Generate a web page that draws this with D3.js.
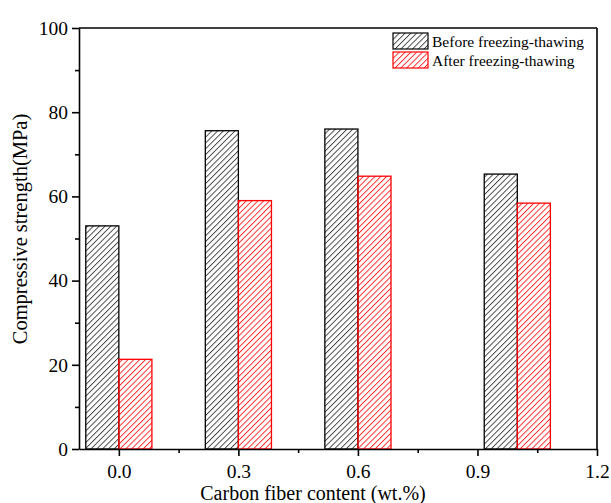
<!doctype html>
<html lang="en">
<head>
<meta charset="utf-8">
<style>
	body{margin:0;background:#fff;}
	text{font-family:"Liberation Serif","Times New Roman",serif;fill:#000;}
</style>
</head>
<body>
<div id="grafico"></div>

<script src="https://d3js.org/d3.v7.min.js"></script>
<script>

// datos
var contenido = [0.0, 0.3, 0.6, 1.0];          // posición de cada grupo (wt.%)
var antes = [53.0, 75.6, 76.0, 65.3];          // Before freezing-thawing
var despues = [21.3, 59.0, 64.8, 58.4];        // After freezing-thawing
var ticksX = [0.0, 0.3, 0.6, 0.9, 1.2];
var menoresX = [0.15, 0.45, 0.75, 1.05];
var ticksY = [0, 20, 40, 60, 80, 100];
var menoresY = [10, 30, 50, 70, 90];
var series = ["Before freezing-thawing", "After freezing-thawing"];

var w = 611, h = 503;
var izq = 79, der = 597, arriba = 28, abajo = 449;
var ancho = 0.083;

var x = d3.scaleLinear().domain([-0.1, 1.2]).range([izq, der]);
var y = d3.scaleLinear().domain([0, 100]).range([abajo, arriba]);

var svg = d3.select("#grafico").append("svg").attr("width", w).attr("height", h);

// tramas diagonales
var defs = svg.append("defs");
function trama(id, color){
	var p = defs.append("pattern").attr("id", id).attr("patternUnits", "userSpaceOnUse")
		.attr("width", 4.1).attr("height", 4.1).attr("patternTransform", "rotate(45)");
	p.append("line").attr("x1", 0.5).attr("y1", 0).attr("x2", 0.5).attr("y2", 4.1)
		.attr("stroke", color).attr("stroke-width", 0.8);
}
trama("negro", "#222");
trama("rojo", "#ff0000");

// barras
svg.selectAll("rect.antes").data(antes).enter().append("rect").attr("class", "antes")
	.attr("x", function(d,i){ return x(contenido[i] - ancho) })
	.attr("width", function(d,i){ return x(contenido[i]) - x(contenido[i] - ancho) })
	.attr("y", function(d){ return y(d) })
	.attr("height", function(d){ return y(0) - y(d) })
	.attr("fill", "url(#negro)").attr("stroke", "#000").attr("stroke-width", 1.3);

svg.selectAll("rect.despues").data(despues).enter().append("rect").attr("class", "despues")
	.attr("x", function(d,i){ return x(contenido[i]) })
	.attr("width", function(d,i){ return x(contenido[i] + ancho) - x(contenido[i]) })
	.attr("y", function(d){ return y(d) })
	.attr("height", function(d){ return y(0) - y(d) })
	.attr("fill", "url(#rojo)").attr("stroke", "#ff0000").attr("stroke-width", 1.3);

// ejes
svg.append("g").attr("transform", "translate(0," + abajo + ")")
	.call(d3.axisBottom(x).tickValues(ticksX).tickFormat(d3.format(".1f")).tickSizeInner(7).tickSizeOuter(0).tickPadding(8));
svg.append("g").attr("transform", "translate(0," + abajo + ")")
	.call(d3.axisBottom(x).tickValues(menoresX).tickFormat("").tickSizeInner(4).tickSizeOuter(0))
	.select(".domain").remove();

svg.append("g").attr("transform", "translate(" + izq + ",0)")
	.call(d3.axisLeft(y).tickValues(ticksY).tickSizeInner(7).tickSizeOuter(0).tickPadding(4));
svg.append("g").attr("transform", "translate(" + izq + ",0)")
	.call(d3.axisLeft(y).tickValues(menoresY).tickFormat("").tickSizeInner(4).tickSizeOuter(0))
	.select(".domain").remove();

svg.selectAll(".domain, .tick line").attr("stroke", "#000").attr("stroke-width", 1.6);
svg.selectAll("g").attr("font-family", "Liberation Serif").attr("font-size", 19.5);

// marco superior y derecho
svg.append("line").attr("x1", izq).attr("x2", der).attr("y1", arriba).attr("y2", arriba).attr("stroke", "#000").attr("stroke-width", 1.6);
svg.append("line").attr("x1", der).attr("x2", der).attr("y1", arriba).attr("y2", abajo).attr("stroke", "#000").attr("stroke-width", 1.6);

// títulos
svg.append("text").text("Carbon fiber content (wt.%)").attr("x", 313).attr("y", 500)
	.attr("text-anchor", "middle").style("font-size", "20px");
svg.append("text").text("Compressive strength(MPa)")
	.attr("transform", "translate(27,229) rotate(-90)")
	.attr("text-anchor", "middle").style("font-size", "20.5px");

// leyenda
var ley = svg.selectAll("g.ley").data(series).enter().append("g").attr("class", "ley")
	.attr("transform", function(d,i){ return "translate(393," + (33 + i * 19) + ")" });
ley.append("rect").attr("width", 35).attr("height", 16)
	.attr("fill", function(d,i){ return i == 0 ? "url(#negro)" : "url(#rojo)" })
	.attr("stroke", function(d,i){ return i == 0 ? "#000" : "#ff0000" }).attr("stroke-width", 1.2);
ley.append("text").text(function(d){ return d }).attr("x", 39).attr("y", 14).style("font-size", "15.5px");

</script>
</body>
</html>
